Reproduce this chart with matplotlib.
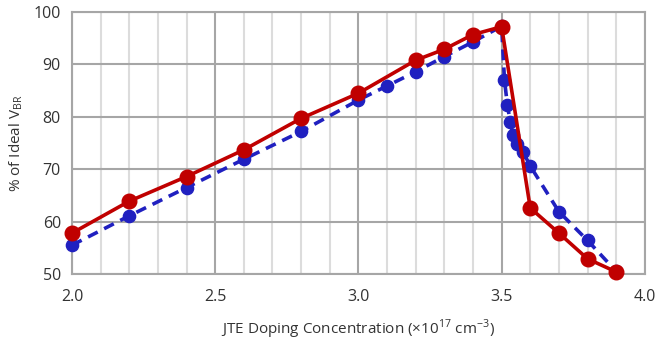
import matplotlib
matplotlib.use("Agg")
import matplotlib.pyplot as plt
from matplotlib.ticker import MultipleLocator

red_x = [2.0, 2.2, 2.4, 2.6, 2.8, 3.0, 3.2, 3.3, 3.4, 3.5, 3.6, 3.7, 3.8, 3.9]
red_y = [57.8, 63.9, 68.6, 73.7, 79.7, 84.5, 90.8, 92.9, 95.7, 97.2, 62.6, 57.8, 52.9, 50.4]

blue_x = [2.0, 2.2, 2.4, 2.6, 2.8, 3.0, 3.1, 3.2, 3.3, 3.4, 3.5, 3.51, 3.52, 3.53, 3.54,
          3.555, 3.575, 3.6, 3.7, 3.8, 3.9]
blue_y = [55.5, 61.1, 66.5, 71.9, 77.2, 83.2, 85.9, 88.6, 91.5, 94.3, 97.3, 87.0, 82.3, 79.1, 76.5,
          74.9, 73.3, 70.6, 61.9, 56.4, 50.5]

x_ticks = [2.0, 2.5, 3.0, 3.5, 4.0]
y_ticks = [50, 60, 70, 80, 90, 100]

plt.rcParams['font.family'] = ['Open Sans', 'DejaVu Sans']

fig = plt.figure(figsize=(6.71, 3.44), dpi=100)
ax = fig.add_axes([0.1073, 0.2035, 0.8537, 0.7615])

ax.set_xlim(2.0, 4.0)
ax.set_ylim(50, 100)
ax.set_xticks(x_ticks)
ax.set_xticklabels([f"{v:.1f}" for v in x_ticks])
ax.set_yticks(y_ticks)
ax.xaxis.set_minor_locator(MultipleLocator(0.1))
ax.grid(which='minor', axis='x', color='#dcdcdc', lw=1.5, zorder=0)
ax.grid(which='major', axis='both', color='#a6a6a6', lw=1.5, zorder=0)
ax.set_axisbelow(True)
ax.tick_params(which='both', length=0, labelsize=11.5, colors='#333333', pad=8)
ax.tick_params(axis='x', which='both', pad=11)
for s in ax.spines.values():
    s.set_color('#a6a6a6')
    s.set_linewidth(1.5)

ax.plot(blue_x, blue_y, color='#2020c0', lw=2.6, ls=(0, (3, 2)), marker='o',
        markersize=8.8, zorder=3, clip_on=False)
ax.plot(red_x, red_y, color='#c00000', lw=2.6, marker='o', markersize=10.5, zorder=4,
        clip_on=False)

ax.set_ylabel('% of Ideal V$_{\\mathregular{BR}}$', fontsize=11, color='#333333', labelpad=6)
ax.set_xlabel('JTE Doping Concentration (×10$^{\\mathregular{17}}$ cm$^{\\mathregular{-3}}$)',
              fontsize=11, color='#333333', labelpad=9)

fig.savefig('out.png', dpi=100)
